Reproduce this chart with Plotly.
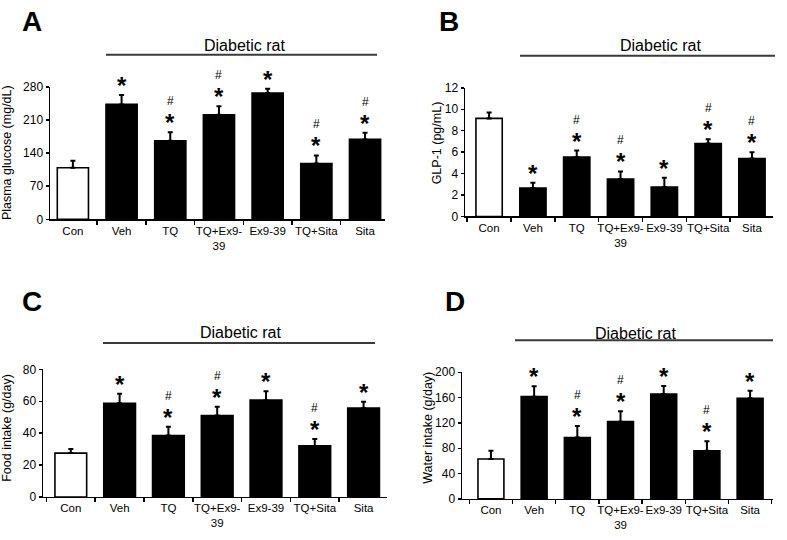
import plotly.graph_objects as go

# ---------------- data ----------------
categories = ["Con", "Veh", "TQ", "TQ+Ex9-39", "Ex9-39", "TQ+Sita", "Sita"]
tick_labels = ["Con", "Veh", "TQ", "TQ+Ex9-<br>39", "Ex9-39", "TQ+Sita", "Sita"]

glucose = [109, 243, 166, 221, 267, 118, 169]
glucose_err = [15, 20, 18, 18, 9, 17, 14]
glucose_sig = ["", "*", "#*", "#*", "*", "#*", "#*"]

glp1 = [9.15, 2.65, 5.55, 3.5, 2.75, 6.8, 5.4]
glp1_err = [0.55, 0.5, 0.6, 0.7, 0.85, 0.4, 0.6]
glp1_sig = ["", "*", "#*", "#*", "*", "#*", "#*"]

food = [27.5, 58.7, 38.5, 51, 60.7, 32, 55.7]
food_err = [2.5, 6, 5.5, 5.5, 5.5, 4.4, 4]
food_sig = ["", "*", "#*", "#*", "*", "#*", "*"]

water = [63, 161.5, 97, 122, 165.5, 76, 159]
water_err = [13, 16.5, 18, 16.5, 13, 15, 12]
water_sig = ["", "*", "#*", "#*", "*", "#*", "*"]

y_titles = ["Plasma glucose (mg/dL)", "GLP-1 (pg/mL)", "Food intake (g/day)", "Water intake (g/day)"]
y_ticks = [[0, 70, 140, 210, 280], [0, 2, 4, 6, 8, 10, 12], [0, 20, 40, 60, 80], [0, 40, 80, 120, 160, 200]]
panel_letters = ["A", "B", "C", "D"]
group_label = "Diabetic rat"

# ---------------- layout helpers ----------------
W, H = 787, 540
FONT = "Liberation Sans, Arial, sans-serif"

def px(x):
    return x / W

def py(y):
    return 1 - y / H

panels = [
    dict(vals=glucose, err=glucose_err, sig=glucose_sig, xdom=(50, 385), ydom=(218, 82),
         xr=(-0.47, 6.41), bw=0.64, title_xy=(7, 150), letter_xy=(32, 15),
         line=(106, 377, 49), grp_xy=(245, 40)),
    dict(vals=glp1, err=glp1_err, sig=glp1_sig, xdom=(465, 773), ydom=(215, 83),
         xr=(-0.55, 6.48), bw=0.6, title_xy=(437, 140), letter_xy=(449, 15),
         line=(520, 775, 50), grp_xy=(660, 40)),
    dict(vals=food, err=food_err, sig=food_sig, xdom=(43, 387), ydom=(503, 372),
         xr=(-0.57, 6.48), bw=0.65, title_xy=(7, 432), letter_xy=(32, 302),
         line=(103, 375, 345), grp_xy=(240, 334)),
    dict(vals=water, err=water_err, sig=water_sig, xdom=(462, 773), ydom=(505, 375),
         xr=(-0.67, 6.53), bw=0.6, title_xy=(428, 432), letter_xy=(455, 302),
         line=(515, 773, 342), grp_xy=(635, 335)),
]

STAR_SIZE = 24
HASH_SIZE = 12
STAR_SHIFT = -5          # px: star text box bottom relative to error-bar top
HASH_SHIFT = STAR_SHIFT + round(STAR_SIZE * 1.117) + 1  # hash box sits just above star box

fig = go.Figure()
annotations = []
shapes = []
layout_axes = {}

for i, p in enumerate(panels):
    n = i + 1
    xa = "x" if n == 1 else f"x{n}"
    ya = "y" if n == 1 else f"y{n}"
    colors = ["white"] + ["black"] * (len(categories) - 1)
    fig.add_trace(go.Bar(
        x=tick_labels, y=p["vals"], xaxis=xa, yaxis=ya, width=p["bw"],
        marker=dict(color=colors, line=dict(color="black", width=1.6)),
        error_y=dict(type="data", array=p["err"], arrayminus=[0] * len(p["err"]),
                     symmetric=False, color="black", thickness=2, width=2.5),
        showlegend=False, hoverinfo="skip",
    ))
    ymax = y_ticks[i][-1]
    layout_axes["xaxis" if n == 1 else f"xaxis{n}"] = dict(
        domain=[px(p["xdom"][0]), px(p["xdom"][1])], anchor=ya, type="category",
        range=list(p["xr"]), showline=True, linecolor="black", linewidth=1.5,
        ticks="outside", tickson="boundaries", ticklen=4, tickwidth=1.5, tickcolor="black",
        tickangle=0, showgrid=False, zeroline=False,
        tickfont=dict(size=11.5, color="black", family=FONT), fixedrange=True,
    )
    layout_axes["yaxis" if n == 1 else f"yaxis{n}"] = dict(
        domain=[py(p["ydom"][0]), py(p["ydom"][1])], anchor=xa,
        range=[0, ymax], tickvals=y_ticks[i], showline=True, linecolor="black", linewidth=1.5,
        ticks="outside", ticklen=3, tickwidth=1.5, tickcolor="black", showgrid=False,
        zeroline=False, tickfont=dict(size=12, color="black", family=FONT), fixedrange=True,
    )
    # significance markers
    for cat, v, e, s in zip(tick_labels, p["vals"], p["err"], p["sig"]):
        if not s:
            continue
        top = v + e
        annotations.append(dict(x=cat, y=top, xref=xa, yref=ya, text="<b>*</b>", showarrow=False,
                                yanchor="bottom", yshift=STAR_SHIFT, borderpad=0,
                                font=dict(size=STAR_SIZE, family=FONT, color="black")))
        if "#" in s:
            annotations.append(dict(x=cat, y=top, xref=xa, yref=ya, text="#", showarrow=False,
                                    yanchor="bottom", yshift=HASH_SHIFT, borderpad=0,
                                    font=dict(size=HASH_SIZE, family=FONT, color="black")))
    # y title
    tx, ty = p["title_xy"]
    annotations.append(dict(x=px(tx), y=py(ty), xref="paper", yref="paper", text=y_titles[i],
                            textangle=-90, showarrow=False, xanchor="center", yanchor="middle",
                            font=dict(size=12.5, family=FONT, color="black")))
    # panel letter
    lx, ly = p["letter_xy"]
    annotations.append(dict(x=px(lx), y=py(ly), xref="paper", yref="paper",
                            text="<b>" + panel_letters[i] + "</b>", showarrow=False,
                            xanchor="center", yanchor="middle",
                            font=dict(size=28, family=FONT, color="black")))
    # group label and line
    gx, gy = p["grp_xy"]
    annotations.append(dict(x=px(gx), y=py(gy), xref="paper", yref="paper", text=group_label,
                            showarrow=False, xanchor="center", yanchor="middle",
                            font=dict(size=16, family=FONT, color="black")))
    x0, x1, yl = p["line"]
    shapes.append(dict(type="line", xref="paper", yref="paper", x0=px(x0), x1=px(x1),
                       y0=py(yl), y1=py(yl), line=dict(color="#3a3a3a", width=2)))

fig.update_layout(
    width=W, height=H, margin=dict(l=0, r=0, t=0, b=0),
    paper_bgcolor="white", plot_bgcolor="white",
    font=dict(family=FONT, color="black"),
    annotations=annotations, shapes=shapes, bargap=0.3,
    **layout_axes,
)

fig.write_html(
    "out.html",
    config={"displayModeBar": False, "staticPlot": True},
    post_script="document.body.style.margin='0';document.body.style.overflow='hidden';",
)
